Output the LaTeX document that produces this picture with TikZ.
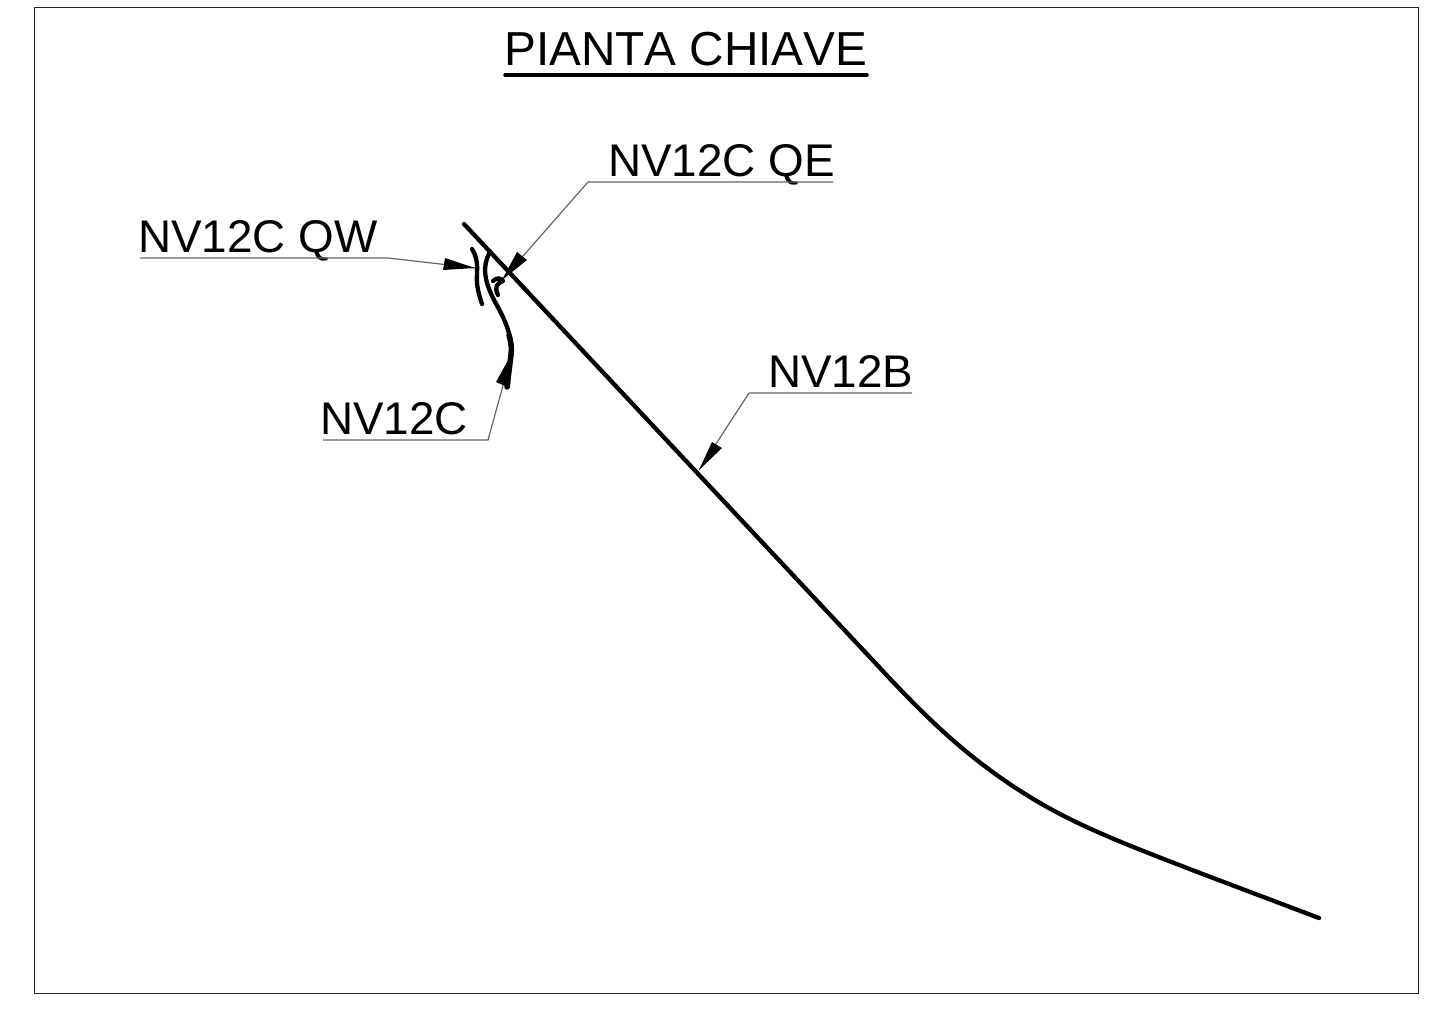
\documentclass[tikz,border=0pt]{standalone}
\usepackage{fontspec}
\setmainfont{Liberation Sans}[Kerning=Off]
\usetikzlibrary{arrows.meta}

\begin{document}
\begin{tikzpicture}[x=1pt,y=-1pt]

        \tikzstyle{every node}=[inner sep=0pt,anchor=base west,font=\fontsize{45.8}{54}\selectfont,text=black]
        \tikzstyle{leader}=[draw=black!60,line width=1.2pt,-]
        \tikzstyle{road}=[draw=black,line width=4.3pt,line cap=round,line join=round]

        \useasboundingbox (0,0) rectangle (1431,1010);
        \path[draw=black!85,line width=1pt] (34,7) rectangle (1418,993);

        \node[font=\fontsize{47.7}{56}\selectfont] (title) at (504,65) {PIANTA CHIAVE};
        \node (qe) at (608,176) {NV12C QE};
        \node (qw) at (138,252) {NV12C QW};
        \node (nvc) at (320,434) {NV12C};
        \node (nvb) at (768,387) {NV12B};

        \coordinate (qetip) at (502,280);
        \coordinate (qwtip) at (475,268);
        \coordinate (nvctip) at (512,353);
        \coordinate (nvbtip) at (699,470);
        \coordinate (qeelbow) at (588,182);
        \coordinate (qwelbow) at (388,258);
        \coordinate (nvcelbow) at (488,440);
        \coordinate (nvbelbow) at (749,393);

        \draw[black,line width=3.5pt,line cap=round] (title.base west) ++(1,10) -- ++(362,0);
        \path[leader] (833,182) -- (qeelbow) -- (qetip);
        \path[leader] (140,258) -- (qwelbow) -- (qwtip);
        \path[leader] (323,440) -- (nvcelbow) -- (nvctip);
        \path[leader] (912,393) -- (nvbelbow) -- (nvbtip);
        \fill[black] (qetip) -- (517,252) -- (527,260) -- cycle;
        \fill[black] (qwtip) -- (445,258) -- (443,270) -- cycle;
        \fill[black] (nvctip) -- (496,382) -- (510,388) -- cycle;
        \fill[black] (nvbtip) -- (712,442) -- (722,448) -- cycle;

        % main alignment
        \path[road] (464,224) -- (880,668)
          .. controls (930,722) and (975,765) .. (1040,803)
          .. controls (1085,829) and (1130,846) .. (1200,873)
          -- (1319,918);
        % ramp and its two small arcs
        \path[road] (490,252) .. controls (482,266) and (484,280) .. (494,300)
          .. controls (503,316) and (510,330) .. (511,345);
        \path[road,line width=5.5pt] (509,335) .. controls (511,342) and (512,348) .. (511,355) -- (507,387);
        \path[road] (472,249) .. controls (480,262) and (476,272) .. (477,283)
          .. controls (478,292) and (480,298) .. (482,304);
        \path[road] (493,281) .. controls (497,277) and (501,278) .. (503,281)
          .. controls (497,283) and (494,287) .. (498,295);

\end{tikzpicture}
\end{document}
